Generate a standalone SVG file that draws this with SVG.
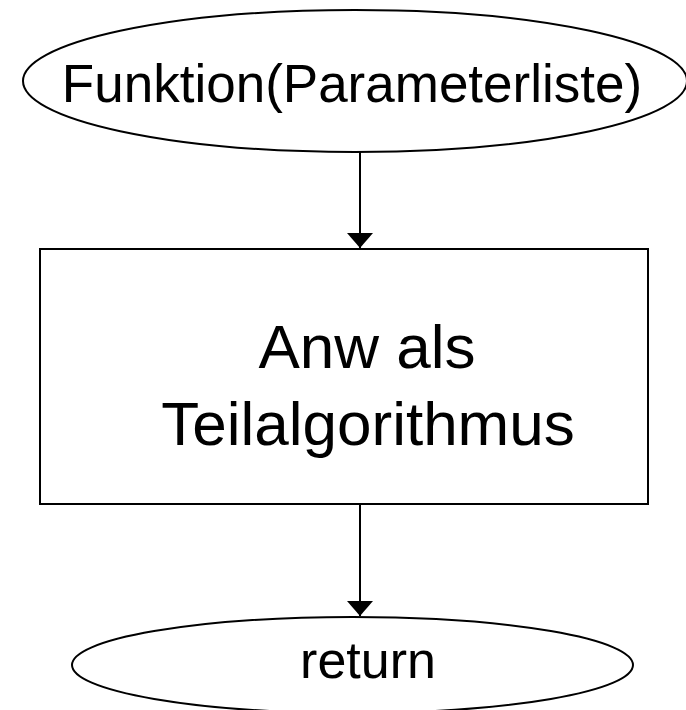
<svg xmlns="http://www.w3.org/2000/svg" width="686" height="710" viewBox="0 0 686 710">
<defs>
<style>
.shape{fill:#fff;stroke:#000;stroke-width:2}
.lbl{font-family:"Liberation Sans",Arial,sans-serif;fill:#000;text-anchor:middle}
.conn{stroke:#000;stroke-width:2;fill:none}
</style>
<marker id="ah" markerUnits="userSpaceOnUse" markerWidth="15" markerHeight="26" refX="15" refY="13" orient="auto">
<polygon points="0,0 15,13 0,26" fill="#000"/>
</marker>
</defs>
<rect width="686" height="710" fill="#fff"/>
<g id="start">
<ellipse class="shape" cx="355" cy="81" rx="332" ry="71"/>
<text class="lbl" x="352" y="102" font-size="53">Funktion(Parameterliste)</text>
</g>
<g id="process">
<rect class="shape" x="40" y="249" width="608" height="255"/>
<text class="lbl" x="367" y="368" font-size="62">Anw als</text>
<text class="lbl" x="368" y="445" font-size="62">Teilalgorithmus</text>
</g>
<g id="end">
<ellipse class="shape" cx="352.5" cy="665" rx="280.5" ry="48"/>
<text class="lbl" x="368" y="678" font-size="52">return</text>
</g>
<g id="connectors">
<line class="conn" x1="360" y1="152" x2="360" y2="248" marker-end="url(#ah)"/>
<line class="conn" x1="360" y1="504" x2="360" y2="616" marker-end="url(#ah)"/>
</g>
</svg>
